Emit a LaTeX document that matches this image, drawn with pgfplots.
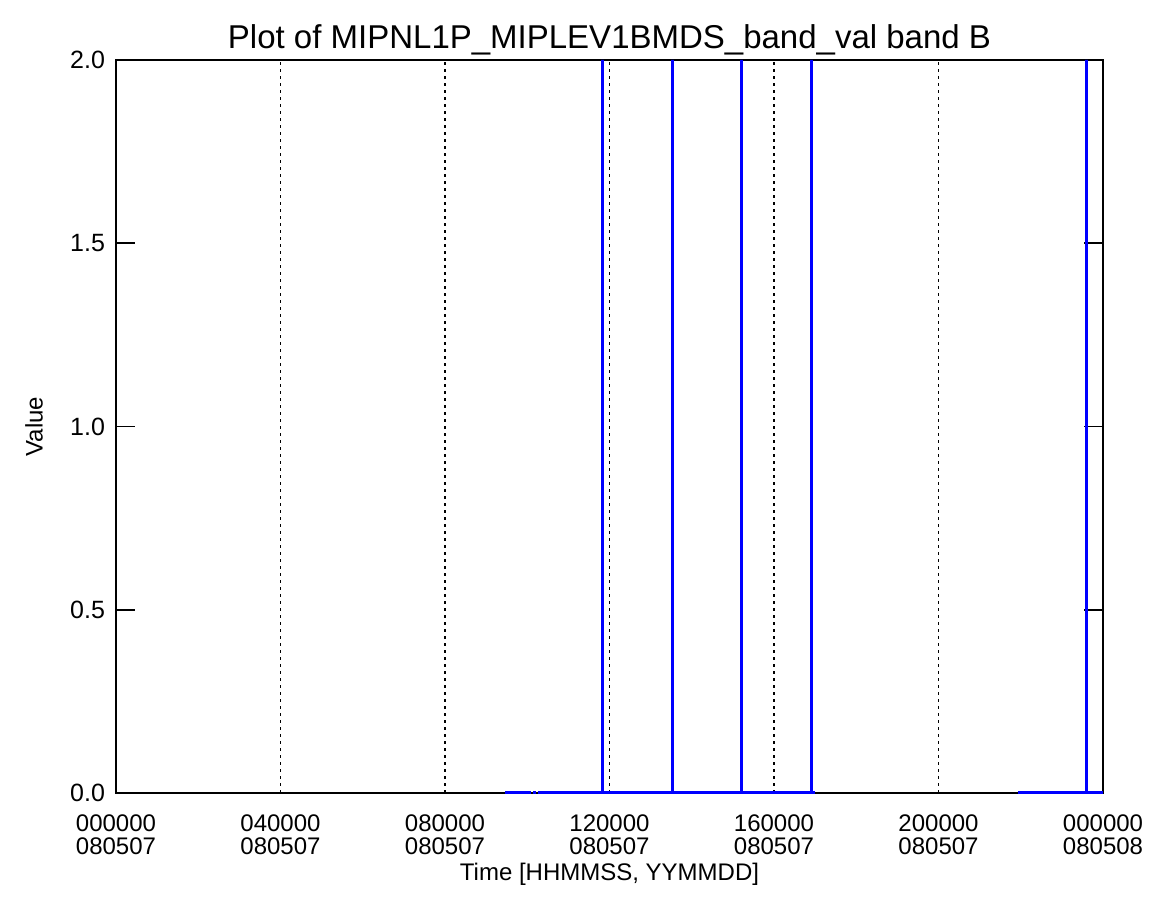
\documentclass[border=0pt]{standalone}
\usepackage{pgfplots}
\pgfplotsset{compat=1.18}
\usepackage{fontspec}
\setmainfont{Liberation Sans}
\begin{document}
\begin{tikzpicture}
\begin{axis}[
  scale only axis,
  width=493.5pt, height=366.5pt,
  xmin=0, xmax=24, ymin=0, ymax=2,
  axis line style={black, line width=0.9pt},
  xtick={0,4,8,12,16,20,24},
  xticklabels={{000000\\080507},{040000\\080507},{080000\\080507},{120000\\080507},{160000\\080507},{200000\\080507},{000000\\080508}},
  xticklabel style={align=center, font=\fontsize{12}{11.5}\selectfont, yshift=-7.5pt},
  xmajorgrids, major grid style={black, line width=0.9pt, dash pattern=on 1.5pt off 2pt},
  ytick={0,0.5,1,1.5,2},
  yticklabel style={font=\fontsize{12.5}{12}\selectfont, xshift=-2pt, /pgf/number format/fixed, /pgf/number format/fixed zerofill, /pgf/number format/precision=1},
  /pgf/number format/assume math mode=true,
  x tick style={draw=none},
  y tick style={black, line width=0.9pt},
  ytick pos=both, tick align=inside,
  major tick length=9.5pt,
  minor tick num=0,
  xlabel={Time [HHMMSS, YYMMDD]},
  ylabel={Value},
  xlabel style={font=\fontsize{12}{12}\selectfont, at={(axis description cs:0.5,0)}, anchor=north, yshift=-31.5pt},
  ylabel style={font=\fontsize{12}{12}\selectfont, at={(axis description cs:0,0.5)}, anchor=south, yshift=33pt},
  title={Plot of MIPNL1P\_MIPLEV1BMDS\_band\_val band B},
  title style={font=\fontsize{16.5}{16}\selectfont, yshift=-7pt},
  clip=false,
]
\addplot[blue, line width=1.5pt, unbounded coords=jump] coordinates {
(9.46,0)(10.10,0)(10.10,nan)(10.14,0)(10.21,0)(10.21,nan)(10.25,0)
(11.84,0)(11.84,2)(11.84,0)
(13.54,0)(13.54,2)(13.54,0)
(15.22,0)(15.22,2)(15.22,0)
(16.92,0)(16.92,2)(16.92,0)(17.0,0)
(17.0,nan)
(21.93,0)(23.59,0)(23.59,2)(23.59,0)(24,0)
};
\end{axis}
\path (current axis.south west) ++(-58pt,-57pt) coordinate (bbA);
\path (current axis.north east) ++(28.5pt,30pt) coordinate (bbB);
\path[draw=none] (bbA) rectangle (bbB);
\end{tikzpicture}
\end{document}
